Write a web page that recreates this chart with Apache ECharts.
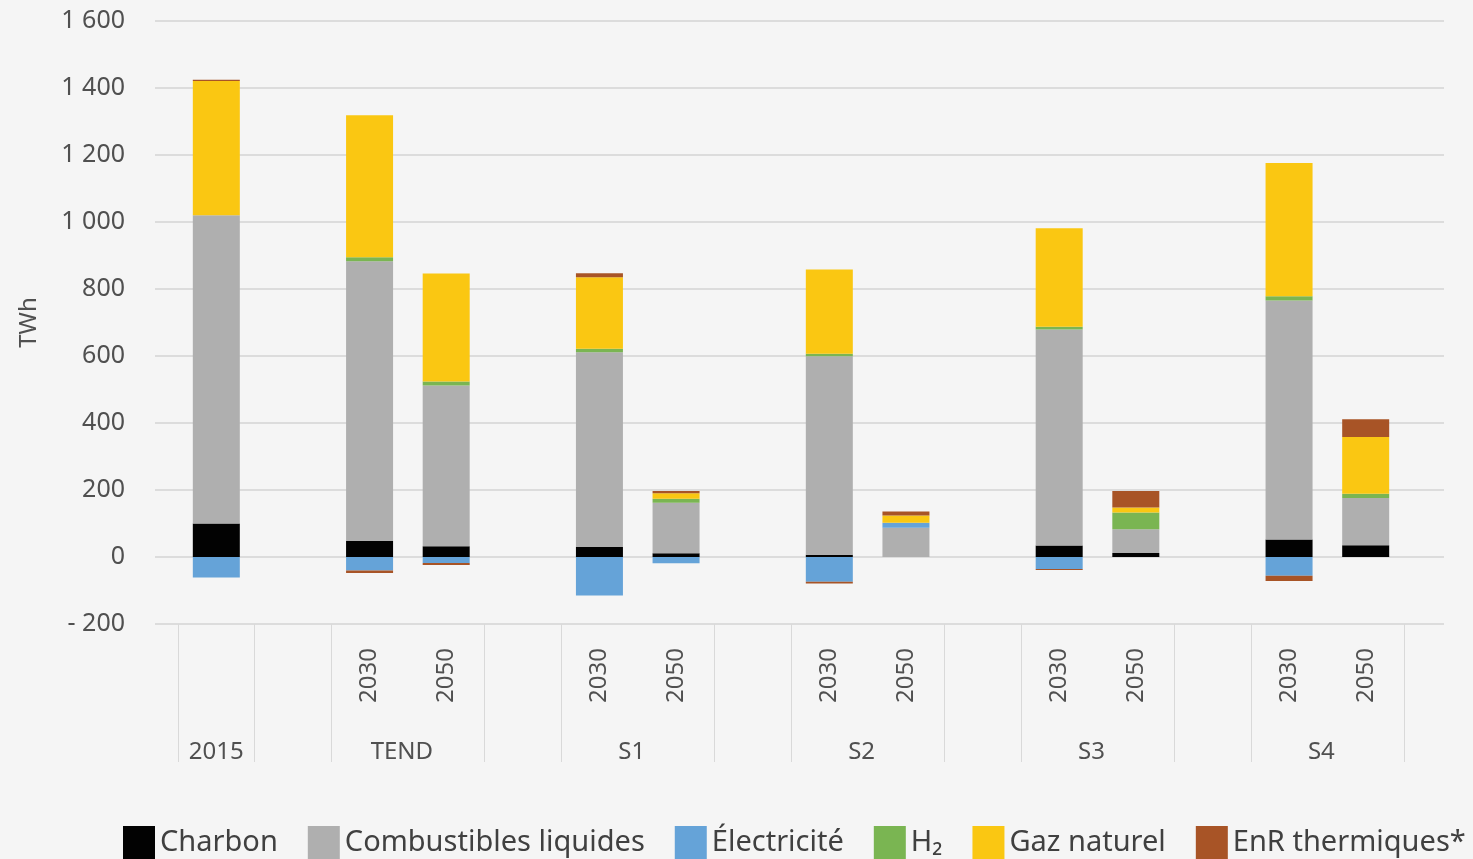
<!DOCTYPE html>
<html>
<head>
<meta charset="utf-8">
<script src="https://cdn.jsdelivr.net/npm/echarts@6/dist/echarts.min.js"></script>
<style>
  html, body { margin: 0; padding: 0; background: #f5f5f5; }
  #chart { width: 1473px; height: 859px; }
</style>
</head>
<body>
<div id="chart"></div>
<script>
// slots of the category axis: empty slots keep the gaps between scenarios
const slots = ['2015', '', 'TEND 2030', 'TEND 2050', '', 'S1 2030', 'S1 2050', '', 'S2 2030', 'S2 2050', '', 'S3 2030', 'S3 2050', '', 'S4 2030', 'S4 2050']
// year labels under each bar (2015 is shown with the scenario row)
const yearLabels = ['', '', '2030', '2050', '', '2030', '2050', '', '2030', '2050', '', '2030', '2050', '', '2030', '2050']
// scenario labels, keyed by their place on the axis (in slots)
const scenarioNames = ['2015', 'TEND', 'S1', 'S2', 'S3', 'S4']
const scenarioPlaces = [0.5, 3, 6, 9, 12, 15]
// slot index of each bar
const barSlots = [0, 2, 3, 5, 6, 8, 9, 11, 12, 14, 15]

// TWh, order: 2015, TEND 2030, TEND 2050, S1 2030, S1 2050, S2 2030, S2 2050, S3 2030, S3 2050, S4 2030, S4 2050
const charbon = [100, 48, 32, 30, 11, 7, 0, 34, 12, 52, 35]
const combustiblesLiquides = [920, 835, 480, 581, 151, 592, 87, 645, 71, 714, 141]
const electricite = [-61, -40, -18, -115, -19, -74, 15, -36, 0, -56, 0]
const h2 = [0, 12, 12, 11, 12, 8, 0, 8, 50, 12, 13]
const gazNaturel = [401, 424, 322, 213, 16, 251, 22, 294, 15, 398, 169]
const enrThermiques = [4, -8, -6, 12, 7, -5, 12, -3, 49, -16, 53]

const yTicks = [-200, 0, 200, 400, 600, 800, 1000, 1200, 1400, 1600]

const seriesDefs = [
  { name: 'Charbon', data: charbon, color: '#020202' },
  { name: 'Combustibles liquides', data: combustiblesLiquides, color: '#afafaf' },
  { name: 'Électricité', data: electricite, color: '#65a3d8' },
  { name: 'H₂', data: h2, color: '#7ab552' },
  { name: 'Gaz naturel', data: gazNaturel, color: '#fac712' },
  { name: 'EnR thermiques*', data: enrThermiques, color: '#a85426' }
]

// put the values into their slots
function toSlots(values) {
  const out = slots.map(() => null)
  barSlots.forEach((s, i) => { out[s] = values[i] })
  return out
}

// "1 600", "- 200"
function formatTick(v) {
  if (v < 0) return '- ' + Math.abs(v)
  if (v >= 1000) return Math.floor(v / 1000) + ' ' + String(v % 1000).padStart(3, '0')
  return String(v)
}

const textColor = '#505050'
const labelFont = 'Noto Sans'

const chart = echarts.init(document.getElementById('chart'))
chart.setOption({
  backgroundColor: '#f5f5f5',
  animation: false,
  legend: {
    left: 123,
    top: 826,
    width: 1400,
    padding: 0,
    itemWidth: 32,
    itemHeight: 34,
    itemGap: 30,
    icon: 'rect',
    textStyle: { fontFamily: labelFont, fontSize: 29, lineHeight: 34, color: '#404040' },
    data: seriesDefs.map(d => d.name)
  },
  grid: [
    // bars
    { left: 178, right: 69, top: 21, bottom: 235 },
    // wider grid only for the horizontal lines and the y labels
    { left: 155, right: 29, top: 21, bottom: 235 }
  ],
  xAxis: [
    {
      type: 'category',
      gridIndex: 0,
      data: slots,
      axisLine: { show: false, onZero: false },
      axisTick: {
        show: true,
        length: 138,
        // a line at the start of every group
        interval: (index) => [3, 6, 9, 12, 15].indexOf(index) < 0,
        lineStyle: { color: '#d9d9d9', width: 1 }
      },
      axisLabel: {
        interval: 0,
        rotate: 90,
        margin: 24,
        fontFamily: labelFont,
        fontSize: 24,
        color: textColor,
        formatter: (v, i) => yearLabels[i]
      }
    },
    {
      type: 'value',
      gridIndex: 0,
      position: 'bottom',
      min: 0,
      max: slots.length,
      interval: 0.5,
      axisLine: { show: false, onZero: false },
      axisTick: { show: false },
      splitLine: { show: false },
      axisLabel: {
        margin: 116,
        color: textColor,
        formatter: (v) => {
          const k = scenarioPlaces.indexOf(v)
          if (k < 0) return ''
          return k === 0 ? '{a|' + scenarioNames[k] + '}' : '{b|' + scenarioNames[k] + '}'
        },
        rich: {
          a: { fontFamily: labelFont, fontSize: 24, color: textColor },
          b: { fontFamily: labelFont, fontSize: 24, color: textColor, padding: [0, 12, 0, 0] }
        }
      }
    },
    { type: 'value', gridIndex: 1, show: false, min: 0, max: 1 }
  ],
  yAxis: [
    {
      type: 'value',
      gridIndex: 0,
      min: yTicks[0],
      max: yTicks[yTicks.length - 1],
      interval: 200,
      show: false
    },
    {
      type: 'value',
      gridIndex: 1,
      min: yTicks[0],
      max: yTicks[yTicks.length - 1],
      interval: 200,
      name: 'TWh',
      nameLocation: 'middle',
      nameGap: 114,
      nameTextStyle: { fontFamily: labelFont, fontSize: 24, color: textColor },
      axisLine: { show: false },
      axisTick: { show: false },
      splitLine: { lineStyle: { color: '#dcdcdc', width: 2 } },
      axisLabel: {
        margin: 30,
        fontFamily: labelFont,
        fontSize: 25,
        color: textColor,
        formatter: formatTick
      }
    }
  ],
  series: seriesDefs.map(d => ({
    name: d.name,
    type: 'bar',
    stack: 'total',
    xAxisIndex: 0,
    yAxisIndex: 0,
    barWidth: 47,
    itemStyle: { color: d.color },
    data: toSlots(d.data)
  }))
})
</script>
</body>
</html>
